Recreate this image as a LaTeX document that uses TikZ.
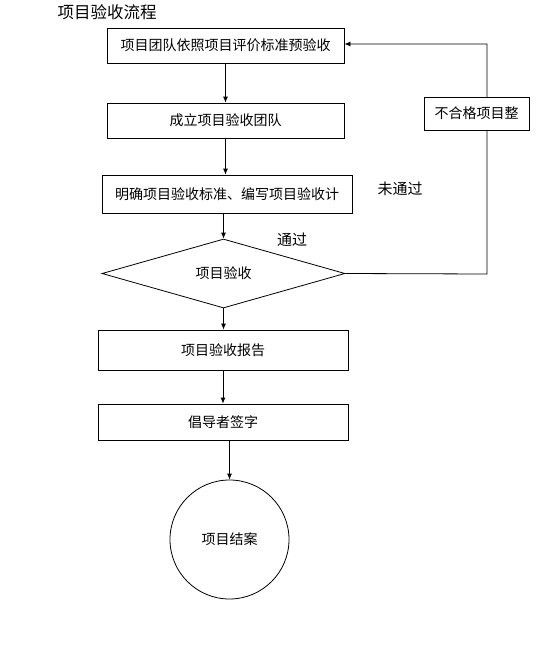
\documentclass[tikz,border=0pt]{standalone}
\usepackage{fontspec}
\setmainfont{Noto Sans CJK SC}
\usepackage{tikz}
\usetikzlibrary{positioning}
\usetikzlibrary{shapes.geometric}
\usetikzlibrary{arrows.meta}
\usetikzlibrary{backgrounds}
\tikzset{
  % plain boxes of the flow
  stage/.style={
    draw,line width=0.8pt,fill=white,inner sep=0pt,
    minimum width=#1,font=\fontsize{14}{16}\selectfont,
  },
  stage/.default=237pt,
  % the check in the middle
  check/.style={
    draw,line width=0.8pt,diamond,inner sep=0pt,
    minimum width=243pt,minimum height=63pt,
    font=\fontsize{14}{16}\selectfont,
  },
  % end of the flow
  closing/.style={draw,line width=0.8pt,circle,minimum size=119pt,font=\fontsize{14}{16}\selectfont},
  % arrows between the steps
  flow/.style={line width=0.8pt,-{Latex[length=6pt,width=5pt]}},
  answer/.style={font=\fontsize{15}{17}\selectfont},
}
\begin{document}
\begin{tikzpicture}[x=1pt,y=-1pt]
  \useasboundingbox (0,0) rectangle (540,648);

  \node[font=\fontsize{16.5}{18}\selectfont] (title) at (107,12) {项目验收流程};

  \node[stage, minimum height=35pt] (pre) at (225.5,45.5) {项目团队依照项目评价标准预验收};
  \node[stage, minimum height=35pt] (team) at (225.5,120.5) {成立项目验收团队};
  \node[stage=250pt, minimum height=38pt] (plan) at (227,194) {明确项目验收标准、编写项目验收计};
  \node[check] (accept) at (223.5,273.5) {项目验收};
  \node[stage=250pt, minimum height=40pt] (report) at (223,350) {项目验收报告};
  \node[stage=250pt, minimum height=36pt] (sign) at (223,422) {倡导者签字};
  \node[closing] (close) at (229.5,539.5) {项目结案};

  \node[stage=105pt, minimum height=33pt] (fix) at (476.5,113.5) {不合格项目整};

  \node[answer] (pass) at (292,240) {通过};
  \node[answer] (fail) at (400,189) {未通过};

  \coordinate (back) at (487,274);
  \coordinate (backtop) at (487,44);

  \draw[flow] (pre.south) -- (pre.south |- team.north);
  \draw[flow] (team.south) -- (team.south |- plan.north);
  \draw[flow] (plan.south -| accept.north) -- (accept.north);
  \draw[flow] (accept.south) -- (accept.south |- report.north);
  \draw[flow] (report.south) -- (report.south |- sign.north);
  \draw[flow] (sign.south -| close.north) -- (close.north);

  % loop back when the check fails
  \begin{scope}[on background layer]
    \draw[flow] (accept.east) -- (back) -- (backtop) -- (pre.east |- backtop);
  \end{scope}
\end{tikzpicture}
\end{document}
